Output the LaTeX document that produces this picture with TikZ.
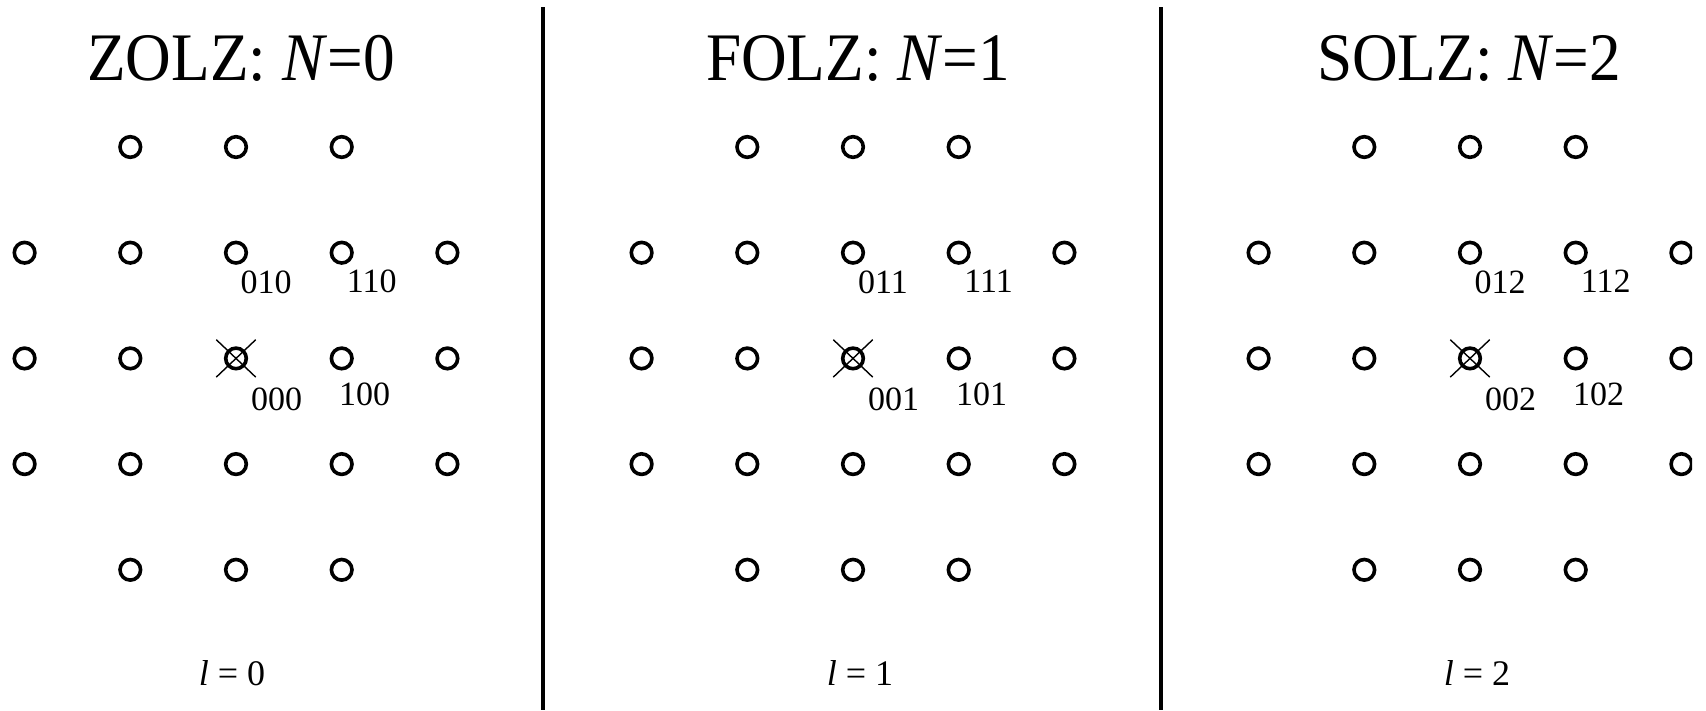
\documentclass[tikz,border=0pt]{standalone}
\usepackage{fontspec}
\setmainfont{Liberation Serif}
\usepackage{graphicx}
\usetikzlibrary{shapes.misc,calc}
\begin{document}
\begin{tikzpicture}[x=1pt,y=-1pt,
  spot/.style={circle, draw, line width=3.6pt, minimum size=20.6pt, inner sep=0pt},
  hit/.style={cross out, draw, line width=1.4pt, minimum width=38pt, minimum height=36pt, inner sep=0pt},
  idx/.style={inner sep=0pt, font=\fontsize{34}{40}\selectfont},
  ttl/.style={anchor=base, inner sep=0pt, font=\fontsize{68}{80}\selectfont},
  lev/.style={anchor=base, inner sep=0pt, font=\fontsize{36}{40}\selectfont},
  divider/.style={line width=3.3pt}]
\useasboundingbox (0,0) rectangle (1706,710);
\begin{scope}
\clip (0,0) rectangle (1692,710);
\foreach \p in {0,1,2} {
  \foreach \r/\c in {0/1,0/2,0/3,1/0,1/1,1/2,1/3,1/4,2/0,2/1,2/2,2/3,2/4,3/0,3/1,3/2,3/3,3/4,4/1,4/2,4/3} {
    \node[spot] (s\p-\r\c) at ({24.6+617*\p+105.7*\c},{147+105.7*\r}) {};
  }
}
\end{scope}
\foreach \p in {0,1,2} {
  \node[hit] (x\p) at (s\p-22) {};
  \node[idx] (a\p) at ($(s\p-12)+(30,30)$) {01\p};
  \node[idx] (b\p) at ($(s\p-13)+(30,28.7)$) {11\p};
  \node[idx] (c\p) at ($(s\p-22)+(40.5,41)$) {00\p};
  \node[idx] (d\p) at ($(s\p-23)+(23,36)$) {10\p};
}
\node[ttl] (t0) at (241,80) {\scalebox{0.93}[1]{ZOLZ: \textit{N}=0}};
\node[ttl] (t1) at (858,80) {\scalebox{0.93}[1]{FOLZ: \textit{N}=1}};
\node[ttl] (t2) at (1469,80) {\scalebox{0.93}[1]{SOLZ: \textit{N}=2}};
\node[lev] (l0) at (232,685) {\textit{l} = 0};
\node[lev] (l1) at (860,685) {\textit{l} = 1};
\node[lev] (l2) at (1477,685) {\textit{l} = 2};
\coordinate (v1t) at (543,7);
\coordinate (v1b) at (543,710);
\coordinate (v2t) at (1161,7);
\coordinate (v2b) at (1161,710);
\draw[divider] (v1t) -- (v1b);
\draw[divider] (v2t) -- (v2b);
\end{tikzpicture}
\end{document}
